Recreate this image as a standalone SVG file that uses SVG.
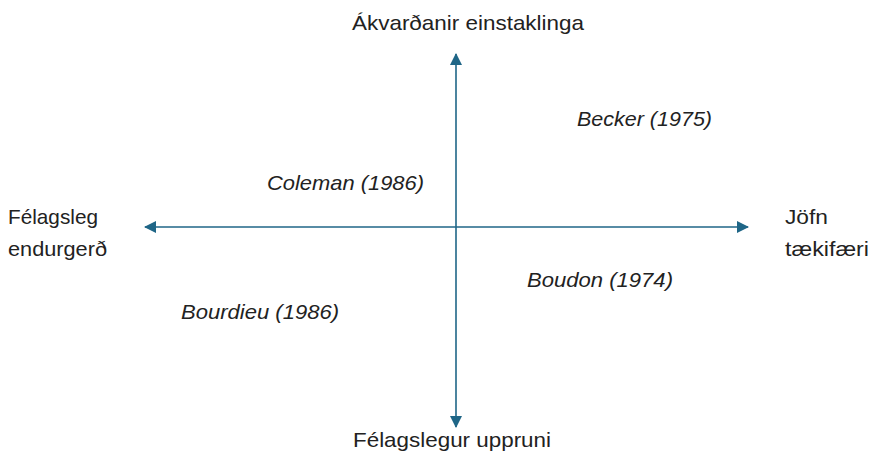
<svg xmlns="http://www.w3.org/2000/svg" width="872" height="453" viewBox="0 0 872 453">
<style>
.t{font-family:"Liberation Sans",Arial,sans-serif;font-size:21px;fill:#222;}
.i{font-family:"Liberation Sans",Arial,sans-serif;font-size:21px;font-style:italic;fill:#222;}
.ax{stroke:#1f6687;stroke-width:1.6;fill:none;}
</style>
<defs>
<marker id="ah" viewBox="0 0 12 12" refX="11" refY="6" markerWidth="12" markerHeight="12" markerUnits="userSpaceOnUse" orient="auto">
<path d="M0,0 L12,6 L0,12 Z" fill="#1f6687"/>
</marker>
</defs>
<rect width="872" height="453" fill="#fff"/>
<g id="connectors">
<line class="ax" x1="456" y1="227" x2="456" y2="54" marker-end="url(#ah)"/>
<line class="ax" x1="456" y1="227" x2="456" y2="427" marker-end="url(#ah)"/>
<line class="ax" x1="456" y1="227" x2="145" y2="227" marker-end="url(#ah)"/>
<line class="ax" x1="456" y1="227" x2="748" y2="227" marker-end="url(#ah)"/>
</g>
<g id="top"><text class="t" x="352" y="30" textLength="232" lengthAdjust="spacingAndGlyphs">Ákvarðanir einstaklinga</text></g>
<g id="bottom"><text class="t" x="353" y="447" textLength="198" lengthAdjust="spacingAndGlyphs">Félagslegur uppruni</text></g>
<g id="left"><text class="t" x="8" y="224" textLength="90" lengthAdjust="spacingAndGlyphs">Félagsleg</text><text class="t" x="8" y="256" textLength="99" lengthAdjust="spacingAndGlyphs">endurgerð</text></g>
<g id="right"><text class="t" x="785" y="224" textLength="43" lengthAdjust="spacingAndGlyphs">Jöfn</text><text class="t" x="785" y="256" textLength="84" lengthAdjust="spacingAndGlyphs">tækifæri</text></g>
<g id="becker"><text class="i" x="577" y="126" textLength="135" lengthAdjust="spacingAndGlyphs">Becker (1975)</text></g>
<g id="coleman"><text class="i" x="267" y="190" textLength="157" lengthAdjust="spacingAndGlyphs">Coleman (1986)</text></g>
<g id="boudon"><text class="i" x="527" y="287" textLength="146" lengthAdjust="spacingAndGlyphs">Boudon (1974)</text></g>
<g id="bourdieu"><text class="i" x="181" y="319" textLength="158" lengthAdjust="spacingAndGlyphs">Bourdieu (1986)</text></g>
</svg>
